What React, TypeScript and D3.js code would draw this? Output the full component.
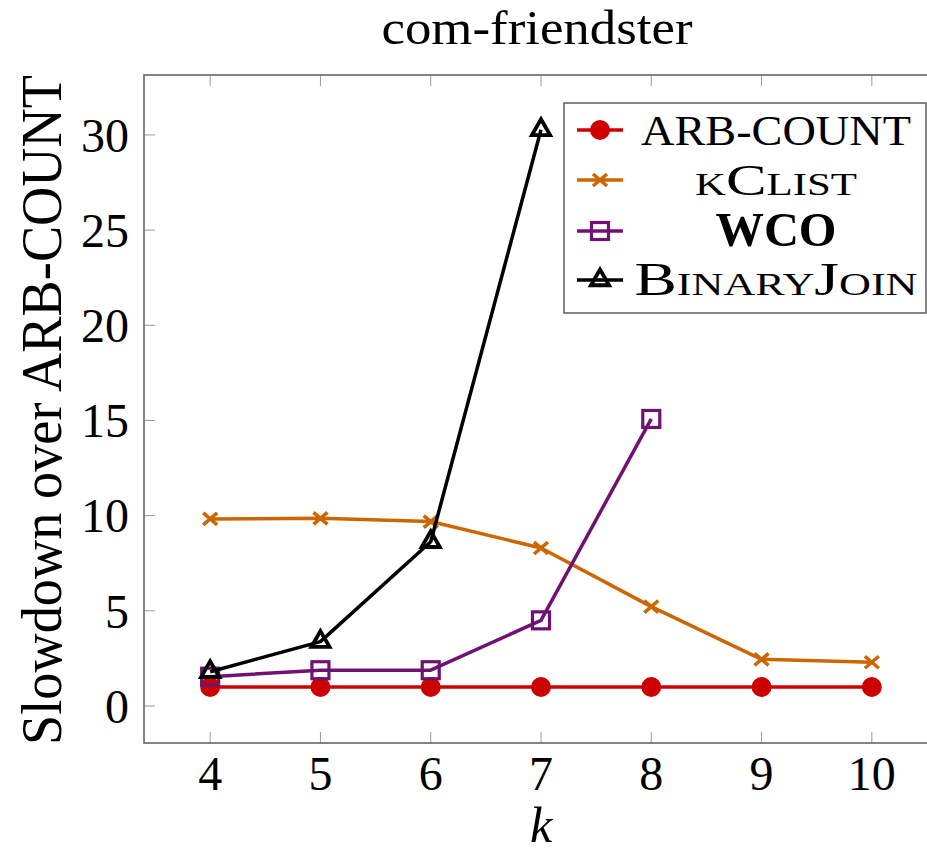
import React from "react";
import * as d3 from "d3";

const kValues = [4, 5, 6, 7, 8, 9, 10];
const arbCount = [1, 1, 1, 1, 1, 1, 1];
const kClist = [9.83, 9.86, 9.69, 8.3, 5.22, 2.45, 2.3];
const wcoK = [4, 5, 6, 7, 8];
const wco = [1.54, 1.88, 1.88, 4.5, 15.08];
const binaryJoinK = [4, 5, 6, 7];
const binaryJoin = [1.8, 3.38, 8.63, 30.27];
const yTicks = [0, 5, 10, 15, 20, 25, 30];
const xTicks = [4, 5, 6, 7, 8, 9, 10];

const W = 927;
const H = 854;
const FONT = "'Liberation Serif', 'DejaVu Serif', serif";

const RED = "#cc0000";
const ORANGE = "#cc6600";
const PURPLE = "#701272";
const BLACK = "#000000";

export default function App() {
  const left = 144, right = 938, top = 75, bottom = 743;
  const x = d3.scaleLinear().domain([3.4, 10.6]).range([left, right]);
  const y = d3.scaleLinear().domain([-1.944, 33.15]).range([bottom, top]);
  const line = d3
    .line<[number, number]>()
    .x((d) => x(d[0]))
    .y((d) => y(d[1]));

  const series = [
    { name: "ARB-COUNT", xs: kValues, ys: arbCount, color: RED, mark: "circle" },
    { name: "kClist", xs: kValues, ys: kClist, color: ORANGE, mark: "x" },
    { name: "WCO", xs: wcoK, ys: wco, color: PURPLE, mark: "square" },
    { name: "BinaryJoin", xs: binaryJoinK, ys: binaryJoin, color: BLACK, mark: "triangle" },
  ];

  const marker = (mark: string, color: string, cx: number, cy: number, key: string) => {
    if (mark === "circle") return <circle key={key} cx={cx} cy={cy} r={10} fill={color} />;
    if (mark === "x")
      return (
        <path
          key={key}
          d={`M${cx - 7},${cy - 6}L${cx + 7},${cy + 6}M${cx - 7},${cy + 6}L${cx + 7},${cy - 6}`}
          stroke={color}
          strokeWidth={3.5}
          fill="none"
        />
      );
    if (mark === "square")
      return (
        <rect key={key} x={cx - 8.5} y={cy - 8.5} width={17} height={17} stroke={color} strokeWidth={3.2} fill="none" />
      );
    const r = 10.5;
    return (
      <path
        key={key}
        d={`M${cx},${cy - r}L${cx + 0.866 * r},${cy + 0.5 * r}L${cx - 0.866 * r},${cy + 0.5 * r}Z`}
        stroke={color}
        strokeWidth={3.8}
        strokeLinejoin="miter"
        fill="none"
      />
    );
  };

  const legendRows = [
    { label: "ARB-COUNT", y: 130, len: 270, size: 42, weight: "normal", sc: false },
    { label: "kClist", y: 180, len: 162, size: 44, weight: "normal", sc: true },
    { label: "WCO", y: 231, len: 121, size: 48, weight: "bold", sc: false },
    { label: "BinaryJoin", y: 280, len: 283, size: 46, weight: "normal", sc: true },
  ];

  const ts = { fontFamily: FONT };

  return (
    <svg
      width={W}
      height={H}
      style={{ position: "absolute", left: 0, top: 0, background: "#fff", fontFamily: FONT }}
    >
      <rect x={0} y={0} width={W} height={H} fill="#fff" />
      {/* title */}
      <text
        x={537}
        y={44}
        fontSize={48}
        textAnchor="middle"
        textLength={311}
        lengthAdjust="spacingAndGlyphs"
        fill="#000"
        style={ts}
      >
        com-friendster
      </text>

      {/* ticks */}
      {xTicks.map((t) => (
        <g key={"xt" + t}>
          <line x1={x(t)} x2={x(t)} y1={bottom} y2={bottom - 11} stroke="#999" strokeWidth={1} />
          <line x1={x(t)} x2={x(t)} y1={top} y2={top + 11} stroke="#999" strokeWidth={1} />
          <text x={x(t)} y={790} fontSize={48} textAnchor="middle" fill="#000" style={ts}>
            {t}
          </text>
        </g>
      ))}
      {yTicks.map((t) => (
        <g key={"yt" + t}>
          <line x1={left} x2={left + 11} y1={y(t)} y2={y(t)} stroke="#999" strokeWidth={1} />
          <line x1={right} x2={right - 11} y1={y(t)} y2={y(t)} stroke="#999" strokeWidth={1} />
          <text x={129} y={y(t)} dy="0.35em" fontSize={48} textAnchor="end" fill="#000" style={ts}>
            {t}
          </text>
        </g>
      ))}

      {/* frame */}
      <rect x={left} y={top} width={right - left} height={bottom - top} fill="none" stroke="#666" strokeWidth={1.6} />

      {/* series */}
      {series.map((s) => {
        const pts: [number, number][] = s.xs.map((k, i) => [k, s.ys[i]]);
        return (
          <g key={s.name}>
            <path d={line(pts) || ""} fill="none" stroke={s.color} strokeWidth={3.5} strokeLinejoin="round" />
            {pts.map((p, i) => marker(s.mark, s.color, x(p[0]), y(p[1]), s.name + i))}
          </g>
        );
      })}

      {/* axis labels */}
      <text x={541} y={842} fontSize={50} fontStyle="italic" textAnchor="middle" fill="#000" style={ts}>
        k
      </text>
      <text
        transform="translate(61,410) rotate(-90)"
        fontSize={56}
        textAnchor="middle"
        textLength={670}
        lengthAdjust="spacingAndGlyphs"
        fill="#000"
        style={ts}
      >
        Slowdown over ARB-COUNT
      </text>

      {/* legend */}
      <rect x={564} y={103} width={362} height={210} fill="#fff" stroke="#666" strokeWidth={1.6} />
      {legendRows.map((r, i) => (
        <g key={r.label}>
          <line x1={577} x2={623} y1={r.y} y2={r.y} stroke={series[i].color} strokeWidth={3.5} />
          {marker(series[i].mark, series[i].color, 600, r.y, "lg" + i)}
          <text
            x={776}
            y={r.y + 15}
            fontSize={r.size}
            fontWeight={r.weight}
            fontVariant={r.sc ? "small-caps" : "normal"}
            textAnchor="middle"
            textLength={r.len}
            lengthAdjust="spacingAndGlyphs"
            fill="#000"
            style={ts}
          >
            {r.label}
          </text>
        </g>
      ))}
    </svg>
  );
}
